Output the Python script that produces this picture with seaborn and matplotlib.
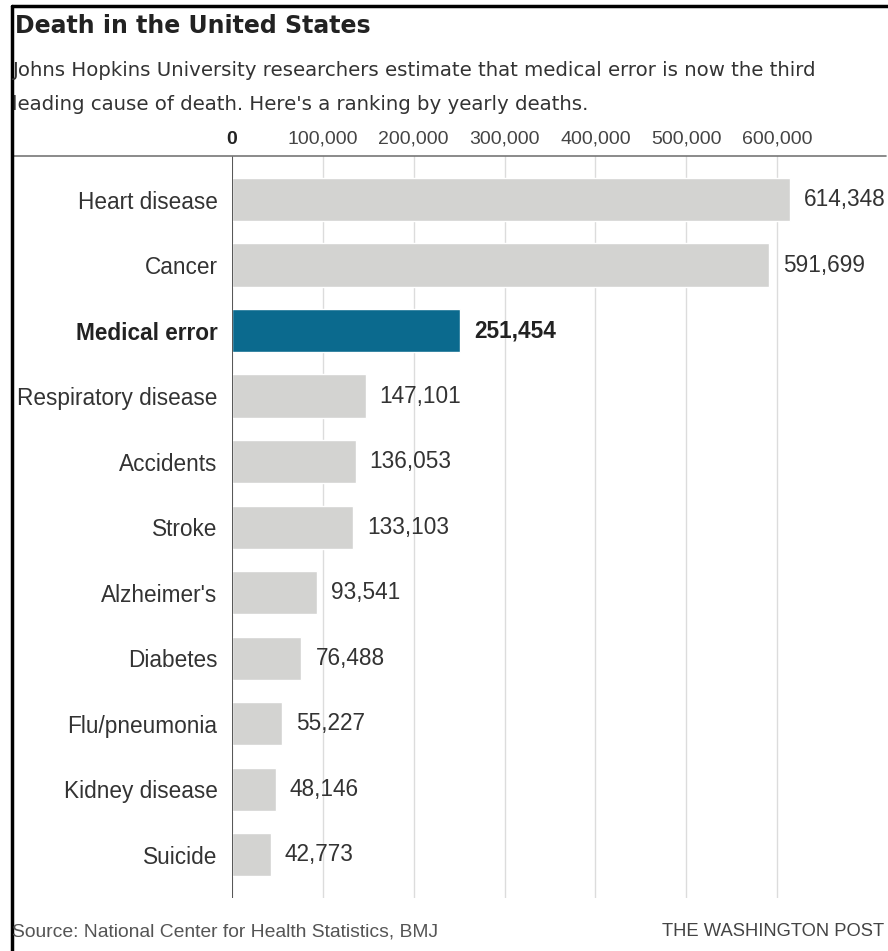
import matplotlib
matplotlib.use("Agg")
import matplotlib.pyplot as plt
import seaborn as sns
import pandas as pd
from matplotlib.lines import Line2D

# ---- data ----
causes = ["Heart disease", "Cancer", "Medical error", "Respiratory disease",
          "Accidents", "Stroke", "Alzheimer's", "Diabetes", "Flu/pneumonia",
          "Kidney disease", "Suicide"]
deaths = [614348, 591699, 251454, 147101, 136053, 133103, 93541, 76488,
          55227, 48146, 42773]
tick_values = [0, 100000, 200000, 300000, 400000, 500000, 600000]
tick_labels = ["0", "100,000", "200,000", "300,000", "400,000", "500,000", "600,000"]
highlight = "Medical error"

title = "Death in the United States"
subtitle1 = "Johns Hopkins University researchers estimate that medical error is now the third"
subtitle2 = "leading cause of death. Here's a ranking by yearly deaths."
source = "Source: National Center for Health Statistics, BMJ"
credit = "THE WASHINGTON POST"

GRAY = "#d3d3d1"
BLUE = "#0b6a8e"

sns.set_theme(style="white")
plt.rcParams["font.family"] = ["Liberation Sans", "DejaVu Sans"]

W, H = 888, 951
fig = plt.figure(figsize=(W / 100, H / 100), dpi=100)
fig.patch.set_facecolor("white")

def fx(x):
    return x / W

def fy(y):
    return 1 - y / H

ax_left, ax_right, ax_top, ax_bottom = 232, 886, 156, 898
ax = fig.add_axes([fx(ax_left), fy(ax_bottom), fx(ax_right - ax_left),
                   (ax_bottom - ax_top) / H])

df = pd.DataFrame({"cause": causes, "deaths": deaths})
palette = {c: (BLUE if c == highlight else GRAY) for c in causes}
sns.barplot(data=df, x="deaths", y="cause", hue="cause", palette=palette,
            order=causes, hue_order=causes, legend=False, width=0.66,
            saturation=1, ax=ax, zorder=2)

ax.set_xlim(0, 720000)
ax.set_ylim(10.66, -0.664)
ax.set_xlabel("")
ax.set_ylabel("")
for s in ax.spines.values():
    s.set_visible(False)

ax.set_axisbelow(True)
ax.grid(axis="x", color="#dcdcdc", linewidth=1.0, zorder=0)
ax.grid(axis="y", visible=False)
ax.axvline(0, color="#555555", linewidth=1.4, zorder=3)

ax.xaxis.tick_top()
ax.set_xticks(tick_values)
ax.set_xticklabels(tick_labels)
ax.tick_params(axis="x", top=False, bottom=False, labeltop=True, labelbottom=False,
               length=0, pad=6, labelsize=14, labelcolor="#444444")
for t in ax.get_xticklabels():
    if t.get_text() == "0":
        t.set_fontweight("bold")
        t.set_color("#222222")

ax.tick_params(axis="y", length=0, pad=10.5, labelsize=16.3, labelcolor="#333333")
for t in ax.get_yticklabels():
    if t.get_text() == highlight:
        t.set_fontweight("bold")
        t.set_color("#222222")

for i, (c, v) in enumerate(zip(causes, deaths)):
    ax.annotate(f"{v:,}", xy=(v, i), xytext=(14, 0), textcoords="offset pixels",
                ha="left", va="center", fontsize=16.3,
                fontweight=("bold" if c == highlight else "normal"),
                color=("#222222" if c == highlight else "#333333"),
                annotation_clip=False)

# header text
fig.text(fx(15), fy(26), title, ha="left", va="center", fontsize=17,
         fontweight="bold", color="#222222", family=["DejaVu Sans"])
fig.text(fx(12), fy(71), subtitle1, ha="left", va="center", fontsize=14.2,
         color="#333333", family=["DejaVu Sans"])
fig.text(fx(12), fy(104), subtitle2, ha="left", va="center", fontsize=14.2,
         color="#333333", family=["DejaVu Sans"])

# footer text
fig.text(fx(12), fy(932), source, ha="left", va="center", fontsize=13.9,
         color="#555555")
fig.text(fx(884), fy(932), credit, ha="right", va="center", fontsize=13.2,
         color="#444444")

# rule under tick labels
fig.add_artist(Line2D([fx(12), fx(886)], [fy(156), fy(156)], color="#777777",
                      linewidth=1.2))
# frame border (top and left)
fig.add_artist(Line2D([fx(12), fx(888)], [fy(5.5), fy(5.5)], color="black",
                      linewidth=2.5))
fig.add_artist(Line2D([fx(12), fx(12)], [fy(5.5), fy(951)], color="black",
                      linewidth=2.5))

fig.savefig("out.png", dpi=100, facecolor="white")
